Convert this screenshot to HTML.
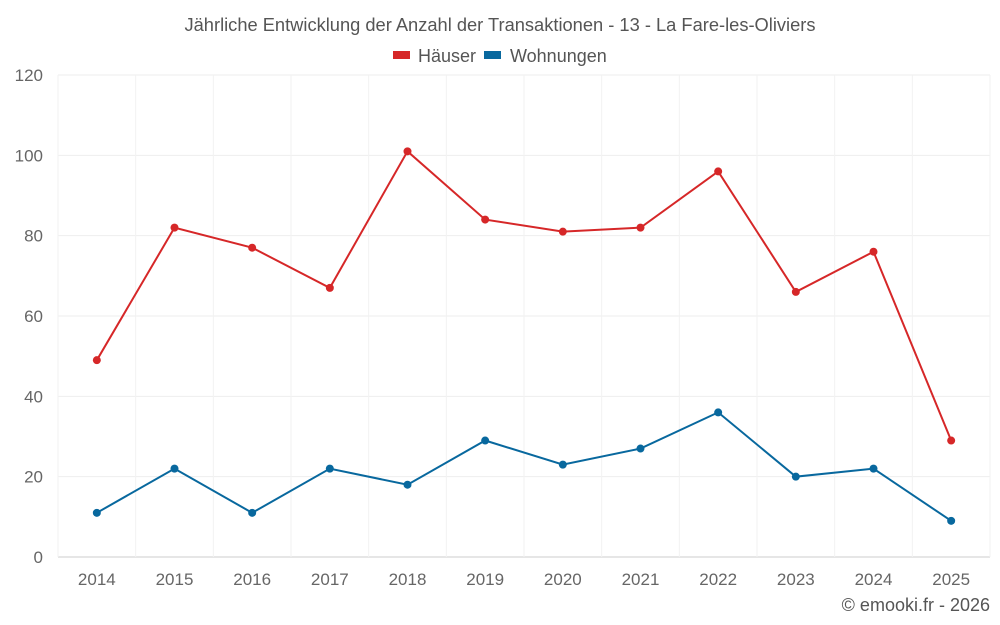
<!DOCTYPE html>
<html><head><meta charset="utf-8"><style>
body{margin:0;background:#fff;font-family:"Liberation Sans",sans-serif}
svg{display:block}
</style></head><body>
<svg id="chart" width="1000" height="625">
<text x="500" y="31" text-anchor="middle" font-size="18.3" fill="#555">Jährliche Entwicklung der Anzahl der Transaktionen - 13 - La Fare-les-Oliviers</text>
<g>
<g><rect x="393" y="51" width="17" height="8" fill="#d62728"/><text x="418" y="62" font-size="18" fill="#555">Häuser</text></g>
<g><rect x="484" y="51" width="17" height="8" fill="#08689e"/><text x="510" y="62" font-size="18" fill="#555">Wohnungen</text></g>
</g>
<g id="grid"></g><g id="axes"></g><g id="series"></g>
<text x="990" y="611" text-anchor="end" font-size="18" fill="#555">© emooki.fr - 2026</text>
</svg>
<script>
const categories=["2014","2015","2016","2017","2018","2019","2020","2021","2022","2023","2024","2025"];
const haeuser=[49,82,77,67,101,84,81,82,96,66,76,29];
const wohnungen=[11,22,11,22,18,29,23,27,36,20,22,9];
const yTicks=[0,20,40,60,80,100,120];
const NS="http://www.w3.org/2000/svg";
const L=58,R=990,T=75,B=557,yMax=120;
const step=(R-L)/categories.length;
const x=i=>L+step*(i+0.5);
const y=v=>B-(v/yMax)*(B-T);
function mk(tag,attrs,parent){const e=document.createElementNS(NS,tag);for(const k in attrs)e.setAttribute(k,attrs[k]);parent.appendChild(e);return e;}
const grid=document.getElementById('grid'),axes=document.getElementById('axes'),ser=document.getElementById('series');
yTicks.forEach(t=>{
 const l=mk('line',{x1:L,x2:R,y1:y(t),y2:y(t),stroke:t===0?'#ccc':'#eeeeee','stroke-width':1},grid);
 
 
 const tx=mk('text',{x:43,y:y(t)+6,'text-anchor':'end','font-size':17,fill:'#666'},axes);
 tx.textContent=t;
 
 
});
for(let i=0;i<=categories.length;i++){
 const l=mk('line',{x1:L+step*i,x2:L+step*i,y1:T,y2:B,stroke:'#f2f2f2','stroke-width':1},grid);
 
 
}
categories.forEach((c,i)=>{
 const tx=mk('text',{x:x(i),y:585,'text-anchor':'middle','font-size':17,fill:'#666'},axes);
 tx.textContent=c;
 
 
});
function drawSeries(vals,color,name){
 const p=mk('polyline',{points:vals.map((v,i)=>x(i)+','+y(v)).join(' '),fill:'none',stroke:color,'stroke-width':2},ser);
 
 
 vals.forEach((v,i)=>{
  const c=mk('circle',{cx:x(i),cy:y(v),r:4,fill:color},ser);
  
  
 });
}
drawSeries(haeuser,'#d62728','haeuser');
drawSeries(wohnungen,'#08689e','wohnungen');
</script>
</body></html>
